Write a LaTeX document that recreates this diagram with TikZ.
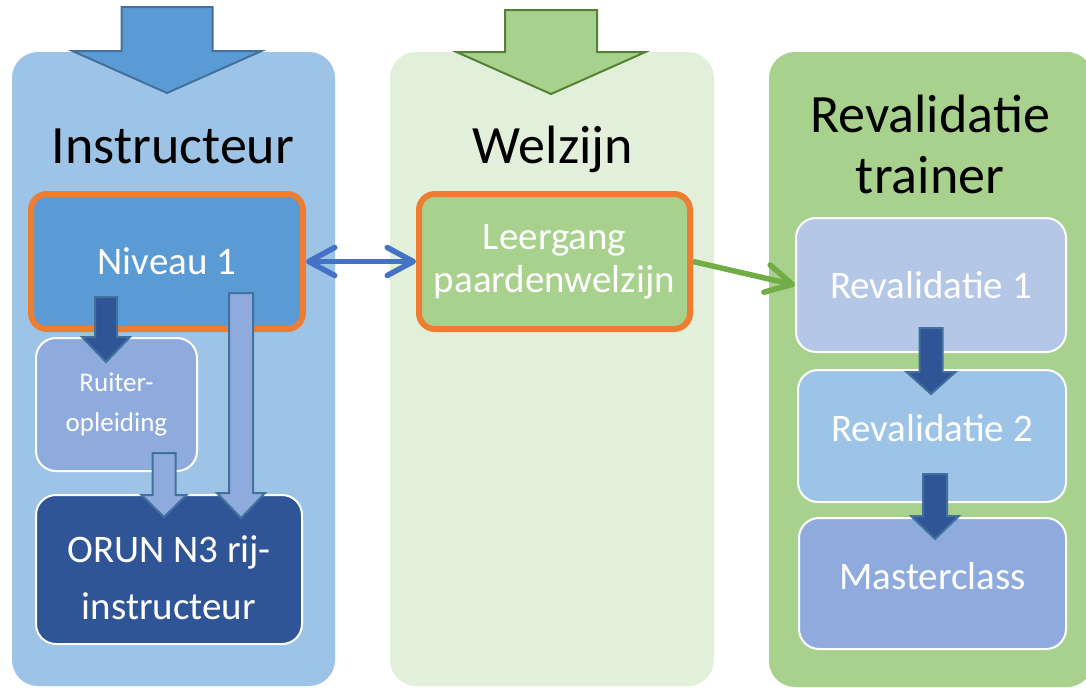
\documentclass[tikz,border=0pt]{standalone}
\usepackage{fontspec}
\setmainfont{Carlito}
\usetikzlibrary{arrows.meta,calc}

\definecolor{instrpanel}{HTML}{9DC3E6}
\definecolor{instrarrow}{HTML}{5B9BD5}
\definecolor{instrline}{HTML}{41719C}
\definecolor{welzpanel}{HTML}{E2EFDA}
\definecolor{welzfill}{HTML}{A9D18E}
\definecolor{welzline}{HTML}{548235}
\definecolor{hiorange}{HTML}{ED7D31}
\definecolor{ruiterfill}{HTML}{8FAADC}
\definecolor{orunfill}{HTML}{2F5597}
\definecolor{revonefill}{HTML}{B4C7E7}
\definecolor{linkblue}{HTML}{4472C4}
\definecolor{linkgreen}{HTML}{70AD47}

\tikzset{barb/.tip={Straight Barb[length=13pt,width=14pt,line cap=round,line join=round]}}

\begin{document}
\begin{tikzpicture}[
  x=0.5pt, y=-0.5pt,
  panel/.style={rounded corners=13pt, inner sep=0pt, outer sep=0pt},
  ttl/.style={font=\fontsize{27}{30.5}\selectfont, align=center, anchor=base, inner sep=0pt},
  box/.style={draw=white, line width=1pt, rounded corners=10pt, text=white, align=center,
    inner sep=0pt, font=\fontsize{19.5}{21.5}\selectfont},
  hibox/.style={box, draw=hiorange, line width=3pt, rounded corners=8pt},
  link/.style={line width=2.75pt},
  blockarrow/.style n args={3}{line width=1pt, line join=miter,
    to path={let \p1=(\tikztostart), \p2=(\tikztotarget) in
      ({\x1-#1},\y1) -- ({\x1+#1},\y1) -- ({\x1+#1},{\y2+#3}) -- ({\x1+#2},{\y2+#3})
      -- (\x1,\y2) -- ({\x1-#2},{\y2+#3}) -- ({\x1-#1},{\y2+#3}) -- cycle}}]

\useasboundingbox (0,0) rectangle (1086,687);

% three columns
\node[panel, fill=instrpanel, minimum width=161.5pt, minimum height=317pt] (pInstr) at (173.5,369) {};
\node[panel, fill=welzpanel, minimum width=162pt, minimum height=317pt] (pWelz) at (552,369) {};
\node[panel, fill=welzfill, minimum width=162pt, minimum height=317.5pt] (pReval) at (931,369.5) {};

\node[ttl] (tInstr) at (173,163) {Instructeur};
\node[ttl] (tWelz) at (553,163) {Welzijn};
\node[ttl] (tReval) at (930,193) {Revalidatie\\trainer};

% courses
\node[hibox, fill=instrarrow, minimum width=136pt, minimum height=67.5pt] (niv) at (167,261.5) {Niveau 1};
\node[box, fill=ruiterfill, minimum width=80.5pt, minimum height=66.5pt,
  font=\fontsize{13.5}{20}\selectfont] (ruiter) at (116.5,404.5) {Ruiter-\\opleiding};
\node[box, fill=orunfill, minimum width=133pt, minimum height=74.5pt,
  font=\fontsize{19.5}{28.5}\selectfont] (orun) at (169,569.5) {\rule{0pt}{22pt}ORUN N3 rij-\\instructeur};

\node[hibox, fill=welzfill, minimum width=135.5pt, minimum height=67.5pt] (leer) at (554.5,261.5) {Leergang\\paardenwelzijn};

\node[box, fill=revonefill, minimum width=135pt, minimum height=67pt] (rev1) at (931,285) {Revalidatie 1};
\node[box, fill=instrpanel, minimum width=134pt, minimum height=66pt, text depth=8pt] (rev2) at (932,436) {Revalidatie 2};
\node[box, fill=ruiterfill, minimum width=133.5pt, minimum height=65.5pt, text depth=8pt] (master) at (932.5,583.5) {Masterclass};

\draw[linkblue, link, barb-barb] (niv) -- (leer);
\draw[linkgreen, link, -barb] (leer.east) -- (rev1.west);

% block arrows
\coordinate (inInstrA) at (167,7);    \coordinate (inInstrB) at (167,93);
\coordinate (inWelzA) at (551,10);    \coordinate (inWelzB) at (551,94);
\coordinate (nivRuiterA) at (106,297); \coordinate (nivRuiterB) at (106,362);
\coordinate (nivOrunA) at (241,293);  \coordinate (nivOrunB) at (241,518);
\coordinate (ruiterOrunA) at (164,453); \coordinate (ruiterOrunB) at (164,517);
\coordinate (revOneA) at (931,328);   \coordinate (revOneB) at (931,394);
\coordinate (revTwoA) at (935,474);   \coordinate (revTwoB) at (935,539);

\draw[fill=instrarrow, draw=instrline, blockarrow={22.75pt}{47.25pt}{21pt}] (inInstrA) to (inInstrB);
\draw[fill=welzfill, draw=welzline, blockarrow={23pt}{47.25pt}{21pt}] (inWelzA) to (inWelzB);
\draw[fill=orunfill, draw=instrline, blockarrow={5.5pt}{12pt}{12.5pt}] (nivRuiterA) to (nivRuiterB);
\draw[fill=ruiterfill, draw=instrline, blockarrow={6pt}{12pt}{12.5pt}] (nivOrunA) to (nivOrunB);
\draw[fill=ruiterfill, draw=instrline, blockarrow={5.75pt}{11.25pt}{11pt}] (ruiterOrunA) to (ruiterOrunB);
\draw[fill=orunfill, draw=instrline, blockarrow={5.75pt}{12.25pt}{11pt}] (revOneA) to (revOneB);
\draw[fill=orunfill, draw=instrline, blockarrow={6pt}{12pt}{11.5pt}] (revTwoA) to (revTwoB);

\end{tikzpicture}
\end{document}
